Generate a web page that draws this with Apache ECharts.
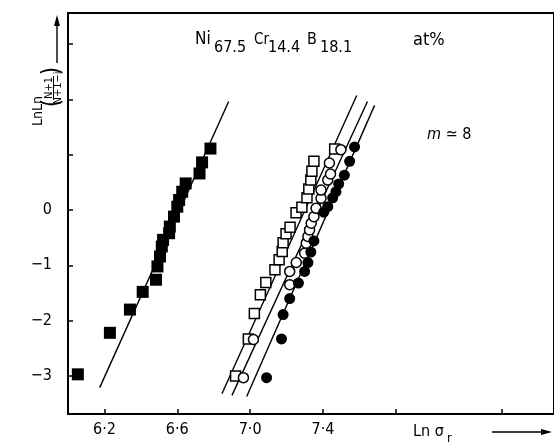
<!DOCTYPE html>
<html><head><meta charset="utf-8">
<script src="https://cdn.jsdelivr.net/npm/echarts@6/dist/echarts.min.js"></script>
<style>html,body{margin:0;padding:0;background:#fff}#c{width:554px;height:446px}</style>
</head><body><div id="c"></div>
<script>
// ---- data (x = Ln sigma_r, y = LnLn((N+1)/(N+1-i))) ----
const filledSquares = [[6.054,-2.97],[6.23,-2.22],[6.34,-1.80],[6.41,-1.48],[6.483,-1.26],[6.491,-1.02],[6.505,-0.84],[6.515,-0.66],[6.522,-0.54],[6.555,-0.42],[6.559,-0.30],[6.582,-0.12],[6.600,0.06],[6.610,0.18],[6.627,0.33],[6.646,0.48],[6.722,0.66],[6.736,0.86],[6.782,1.11]];
const openSquares = [[6.920,-3.00],[6.990,-2.33],[7.023,-1.87],[7.056,-1.53],[7.086,-1.31],[7.136,-1.08],[7.159,-0.90],[7.176,-0.75],[7.181,-0.59],[7.197,-0.43],[7.219,-0.31],[7.252,-0.05],[7.284,0.05],[7.312,0.22],[7.322,0.38],[7.333,0.54],[7.339,0.70],[7.350,0.88],[7.464,1.10]];
const openCircles = [[6.963,-3.03],[7.018,-2.34],[7.217,-1.35],[7.217,-1.11],[7.253,-0.95],[7.299,-0.78],[7.308,-0.60],[7.317,-0.48],[7.326,-0.36],[7.335,-0.24],[7.350,-0.12],[7.362,0.03],[7.389,0.21],[7.389,0.36],[7.426,0.54],[7.441,0.65],[7.435,0.85],[7.498,1.09]];
const filledCircles = [[7.090,-3.03],[7.172,-2.33],[7.181,-1.89],[7.217,-1.60],[7.265,-1.32],[7.299,-1.11],[7.317,-0.95],[7.333,-0.76],[7.350,-0.56],[7.404,-0.04],[7.426,0.06],[7.453,0.22],[7.471,0.33],[7.486,0.47],[7.517,0.63],[7.546,0.88],[7.573,1.14]];
const fitFilledSquares = [[6.174,-3.21],[6.882,1.96]];
const fitOpenSquares = [[6.845,-3.32],[7.585,2.07]];
const fitOpenCircles = [[6.900,-3.35],[7.644,1.96]];
const fitFilledCircles = [[6.981,-3.37],[7.683,1.89]];
const xTickValues = [6.2,6.6,7.0,7.4,7.8,8.38];
const xLabelValues = [6.2,6.6,7.0,7.4];
const xTickLabels = ['6·2','6·6','7·0','7·4'];
const yTickValues = [-3,-2,-1,0,1,2,3];
const yLabelValues = [-3,-2,-1,0];
const yTickLabels = ['−3','−2','−1','0'];

const FF = '"Liberation Sans Narrow","DejaVu Sans Condensed","Liberation Sans",Arial,sans-serif';
const chart = echarts.init(document.getElementById('c'), null, {renderer:'canvas'});
function lbl(vals, labels){ return v => { const i = vals.findIndex(t => Math.abs(t - v) < 1e-6); return i >= 0 ? labels[i] : ''; }; }
const lineS = (d) => ({type:'line', data:d, symbol:'none', silent:true, z:2, lineStyle:{color:'#000', width:1.4}, animation:false});
const pt = (d, sym, size, fill, z) => ({type:'scatter', data:d, symbol:sym, symbolSize:size, z:z, animation:false,
  itemStyle:{color:fill, opacity:1, borderColor:'#000', borderWidth: fill === '#000' ? 0 : 1.5}});

chart.setOption({
  animation:false,
  backgroundColor:'#fff',
  grid:{left:68, top:13, right:-5, bottom:32, show:true, borderColor:'#000', borderWidth:2},
  xAxis:{type:'value', min:6, max:8.668,
    axisLine:{onZero:false, lineStyle:{color:'#000', width:2}},
    axisTick:{inside:true, length:5, customValues:xTickValues, lineStyle:{color:'#000', width:1.5}},
    axisLabel:{customValues:xLabelValues, formatter:lbl(xLabelValues, xTickLabels), margin:8, color:'#000', fontSize:16, fontFamily:FF},
    splitLine:{show:false}},
  yAxis:{type:'value', min:-3.687, max:3.56,
    axisLine:{onZero:false, lineStyle:{color:'#000', width:2}},
    axisTick:{inside:true, length:5, customValues:yTickValues, lineStyle:{color:'#000', width:1.5}},
    axisLabel:{customValues:yLabelValues, formatter:lbl(yLabelValues, yTickLabels), margin:16, color:'#000', fontSize:16, fontFamily:FF},
    splitLine:{show:false}},
  series:[
    lineS(fitFilledSquares), lineS(fitOpenSquares), lineS(fitOpenCircles), lineS(fitFilledCircles),
    pt(filledSquares,'rect',12,'#000',5),
    pt(openSquares,'rect',10,'#fff',5),
    pt(openCircles,'circle',10,'#fff',6),
    pt(filledCircles,'circle',11,'#000',7)
  ],
  graphic:[
    {type:'text', x:195, y:40, style:{text:'Ni', fontSize:17, fontFamily:FF, fill:'#000', verticalAlign:'middle'}},
    {type:'text', x:214, y:48, style:{text:'67.5', fontSize:16, fontFamily:FF, fill:'#000', verticalAlign:'middle'}},
    {type:'text', x:254, y:40, style:{text:'Cr', fontSize:15, fontFamily:FF, fill:'#000', verticalAlign:'middle'}},
    {type:'text', x:268, y:48, style:{text:'14.4', fontSize:16, fontFamily:FF, fill:'#000', verticalAlign:'middle'}},
    {type:'text', x:307, y:40, style:{text:'B', fontSize:16, fontFamily:FF, fill:'#000', verticalAlign:'middle'}},
    {type:'text', x:320, y:48, style:{text:'18.1', fontSize:16, fontFamily:FF, fill:'#000', verticalAlign:'middle'}},
    {type:'text', x:413, y:40, style:{text:'at%', fontSize:18, fontFamily:FF, fill:'#000', verticalAlign:'middle'}},
    {type:'text', x:427, y:135, style:{text:'{i|m} ≃ 8', fontSize:16, fontFamily:FF, fill:'#000', verticalAlign:'middle',
      rich:{i:{fontStyle:'italic', fontSize:16, fontFamily:FF}}}},
    {type:'text', x:413, y:432, style:{text:'Ln σ', fontSize:16, fontFamily:FF, fill:'#000', verticalAlign:'middle'}},
    {type:'text', x:447, y:439, style:{text:'r', fontSize:13, fontFamily:FF, fill:'#000', verticalAlign:'middle'}},
    {type:'line', shape:{x1:492, y1:432, x2:545, y2:432}, style:{stroke:'#000', lineWidth:1.4}},
    {type:'polygon', shape:{points:[[552,432],[541,429],[541,435]]}, style:{fill:'#000'}},
    // y-axis title (rotated)
    {type:'text', x:38, y:111, rotation:Math.PI/2, style:{text:'LnLn', fontSize:14, fontFamily:FF, fill:'#000', align:'center', verticalAlign:'middle'}},
    {type:'text', x:53, y:103, rotation:Math.PI/2, style:{text:'(', fontSize:24, fontFamily:FF, fill:'#000', align:'center', verticalAlign:'middle'}},
    {type:'text', x:53, y:71, rotation:Math.PI/2, style:{text:')', fontSize:24, fontFamily:FF, fill:'#000', align:'center', verticalAlign:'middle'}},
    {type:'text', x:49, y:88, rotation:Math.PI/2, style:{text:'N+1', fontSize:11, fontFamily:FF, fill:'#000', align:'center', verticalAlign:'middle'}},
    {type:'text', x:58, y:88, rotation:Math.PI/2, style:{text:'N+1−i', fontSize:11, fontFamily:FF, fill:'#000', align:'center', verticalAlign:'middle'}},
    {type:'line', shape:{x1:53.5, y1:76, x2:53.5, y2:100}, style:{stroke:'#000', lineWidth:1}},
    {type:'line', shape:{x1:57, y1:63, x2:57, y2:24}, style:{stroke:'#000', lineWidth:1.4}},
    {type:'polygon', shape:{points:[[57,15],[54,26],[60,26]]}, style:{fill:'#000'}}
  ]
});
</script></body></html>
